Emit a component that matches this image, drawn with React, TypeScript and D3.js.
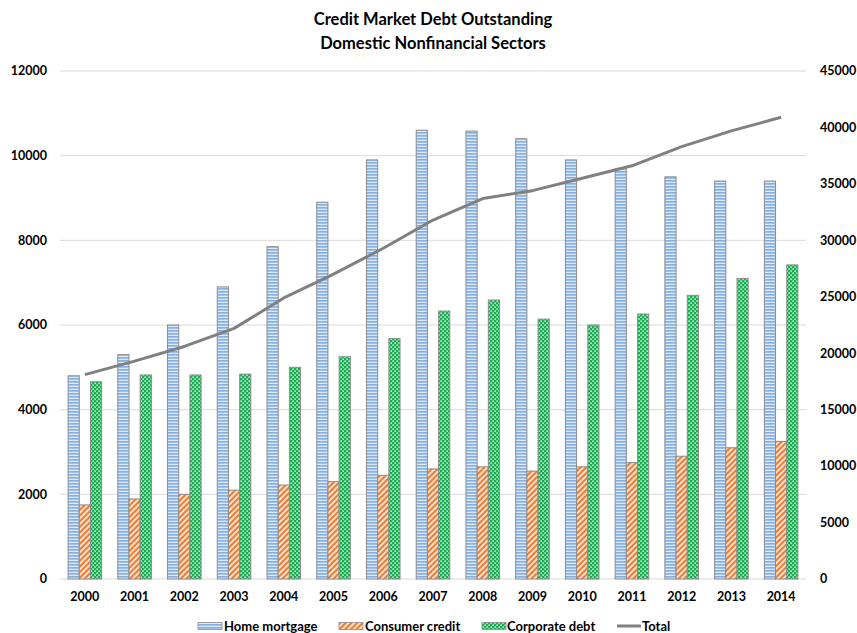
import React from "react";
import * as d3 from "d3";

const years = ["2000","2001","2002","2003","2004","2005","2006","2007","2008","2009","2010","2011","2012","2013","2014"];
const homeMortgage = [4800,5300,6000,6900,7850,8900,9900,10600,10580,10400,9900,9700,9500,9400,9400];
const consumerCredit = [1750,1890,2000,2100,2220,2300,2450,2600,2650,2550,2650,2750,2900,3100,3250];
const corporateDebt = [4660,4820,4820,4840,5000,5250,5680,6330,6590,6140,6000,6260,6700,7100,7420];
const total = [18100,19300,20600,22200,24900,27000,29300,31800,33700,34400,35500,36600,38300,39700,40900];
const leftTicks = [0,2000,4000,6000,8000,10000,12000];
const rightTicks = [0,5000,10000,15000,20000,25000,30000,35000,40000,45000];
const seriesNames = ["Home mortgage","Consumer credit","Corporate debt","Total"];

const W = 857, H = 633;
const L = 60, R = 806, T = 71, B = 579;
const FONT = "Lato, 'Open Sans', sans-serif";

export default function App() {
  const x = d3.scaleBand<string>().domain(years).range([L, R]).paddingInner(0).paddingOuter(0);
  const yL = d3.scaleLinear().domain([0, 12000]).range([B, T]);
  const yR = d3.scaleLinear().domain([0, 45000]).range([B, T]);
  const bw = x.bandwidth();
  const barW = bw * 0.225;
  const groupW = barW * 3;
  const off = (bw - groupW) / 2;
  const series = [
    { vals: homeMortgage, fill: "url(#pHome)" },
    { vals: consumerCredit, fill: "url(#pCons)" },
    { vals: corporateDebt, fill: "url(#pCorp)" },
  ];
  const line = d3.line<number>()
    .x((_, i) => (x(years[i]) as number) + bw / 2)
    .y((d) => yR(d));

  const legendItems = [
    { name: seriesNames[0], fill: "url(#pHome)", sx: 198, tx: 224 },
    { name: seriesNames[1], fill: "url(#pCons)", sx: 339, tx: 365 },
    { name: seriesNames[2], fill: "url(#pCorp)", sx: 482, tx: 507 },
  ];
  const legY = 626;

  return (
    <svg width={W} height={H} style={{ position: "absolute", left: 0, top: 0, background: "#fff" }} fontFamily={FONT}>
      <defs>
        <pattern id="pHome" width="4" height="3" patternUnits="userSpaceOnUse">
          <rect width="4" height="3" fill="#dde9f8" />
          <rect width="4" height="1.7" fill="#86b0e4" />
        </pattern>
        <pattern id="pCons" width="4" height="4" patternUnits="userSpaceOnUse" patternTransform="rotate(-45)">
          <rect width="4" height="4" fill="#fbe0cf" />
          <rect width="4" height="2" fill="#ed7d31" />
        </pattern>
        <pattern id="pCorp" width="4" height="4" patternUnits="userSpaceOnUse">
          <rect width="4" height="4" fill="#19ad52" />
          <rect x="0.4" y="0.4" width="1.4" height="1.4" fill="#ffffff" />
          <rect x="2.4" y="2.4" width="1.4" height="1.4" fill="#ffffff" />
        </pattern>
      </defs>

      <text x={433} y={25} textAnchor="middle" fontSize={16.5} fontWeight="bold" fill="#000">Credit Market Debt Outstanding</text>
      <text x={433} y={49} textAnchor="middle" fontSize={16.5} fontWeight="bold" fill="#000">Domestic Nonfinancial Sectors</text>

      {leftTicks.map((t) => (
        <g key={"l" + t}>
          <line x1={L} x2={R} y1={yL(t)} y2={yL(t)} stroke="#d9d9d9" strokeWidth={1} />
          <text x={47} y={yL(t)} dy="0.35em" textAnchor="end" fontSize={12.5} fontWeight="bold" fill="#000">{t}</text>
        </g>
      ))}
      {rightTicks.map((t) => (
        <text key={"r" + t} x={820} y={yR(t)} dy="0.35em" textAnchor="start" fontSize={12.5} fontWeight="bold" fill="#000">{t}</text>
      ))}

      {years.map((yr, i) => (
        <g key={yr}>
          {series.map((s, j) => {
            const bx = (x(yr) as number) + off + j * barW;
            const v = s.vals[i];
            return (
              <rect key={j} x={bx} y={yL(v)} width={barW} height={B - yL(v)} fill={s.fill} stroke="#8c8c8c" strokeWidth={1} />
            );
          })}
          <text x={(x(yr) as number) + bw / 2} y={597} dy="0.35em" textAnchor="middle" fontSize={12.5} fontWeight="bold" fill="#000">{yr}</text>
        </g>
      ))}

      <path d={line(total) || ""} fill="none" stroke="#808080" strokeWidth={3} strokeLinejoin="round" />

      {legendItems.map((it) => (
        <g key={it.name}>
          <rect x={it.sx} y={legY - 3.5} width={24} height={7} fill={it.fill} stroke="#8c8c8c" strokeWidth={0.8} />
          <text x={it.tx} y={legY} dy="0.35em" fontSize={13} fontWeight="bold" fill="#000">{it.name}</text>
        </g>
      ))}
      <line x1={617} x2={641} y1={legY} y2={legY} stroke="#808080" strokeWidth={3} />
      <text x={642} y={legY} dy="0.35em" fontSize={13} fontWeight="bold" fill="#000">{seriesNames[3]}</text>
    </svg>
  );
}
